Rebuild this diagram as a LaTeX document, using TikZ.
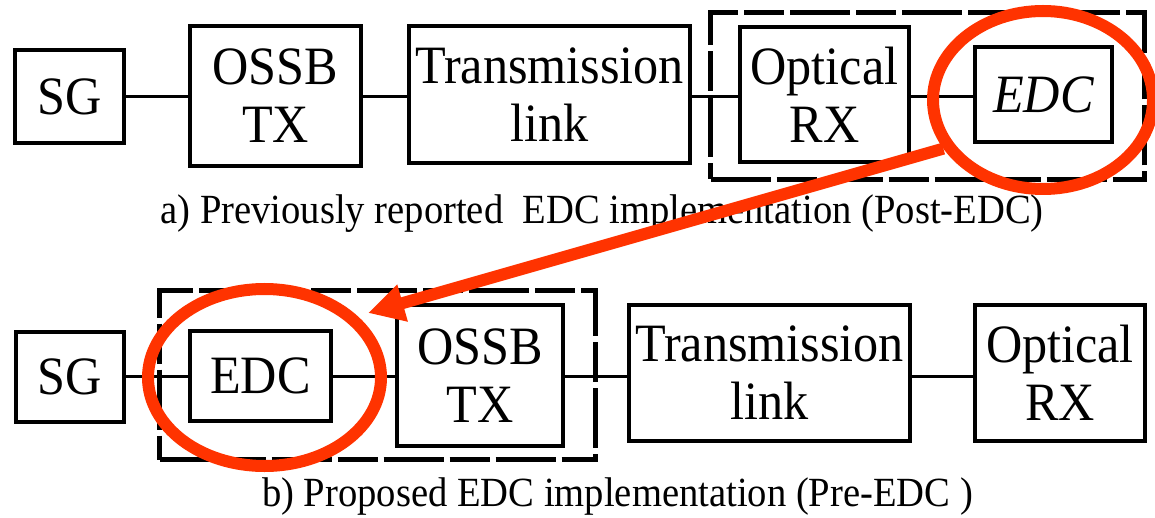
\documentclass[tikz,border=0pt]{standalone}
\usepackage{fontspec}
\setmainfont[FakeStretch=0.93]{Liberation Serif}
\usetikzlibrary{arrows.meta,shapes.geometric}
\definecolor{markred}{RGB}{255,51,0}
\begin{document}
\begin{tikzpicture}[x=1pt,y=-1pt,
  blk/.style={draw,line width=4pt,inner sep=0pt,align=center,
    font=\fontsize{54}{58}\selectfont},
  link/.style={line width=3.5pt},
  group/.style={draw,line width=5pt,inner sep=0pt,
    dash pattern=on 60pt off 6pt on 40pt off 6pt},
  caption/.style={font=\fontsize{41.5}{45}\selectfont,anchor=base,inner sep=0pt},
  ring/.style={draw=markred,ellipse,line width=12pt,inner sep=0pt},
  pointer/.style={color=markred,line width=12pt,
    -{Triangle[length=36pt,width=36pt]}}]
\useasboundingbox (0,0) rectangle (1155,518);

% (a) post-compensation chain
\node[blk,minimum width=109pt,minimum height=93pt]  (sgA)   at (69.5,96.5)  {SG};
\node[blk,minimum width=171pt,minimum height=140pt] (ossbA) at (275.5,96)   {OSSB\\TX};
\node[blk,minimum width=281pt,minimum height=137pt] (trA)   at (549.5,94.5) {Transmission\\link};
\node[blk,minimum width=169pt,minimum height=135pt] (orxA)  at (824.5,94.5) {Optical\\RX};
\node[blk,minimum width=137pt,minimum height=95pt]  (edcA)  at (1043.5,94.5){\itshape EDC};
\node[group,minimum width=434pt,minimum height=167pt] (grpA) at (927.5,96) {};

\draw[link] (sgA.east) -- (sgA.east -| ossbA.west);
\draw[link] (ossbA.east |- sgA.east) -- (sgA.east -| trA.west);
\draw[link] (trA.east |- sgA.east) -- (sgA.east -| orxA.west);
\draw[link] (orxA.east |- sgA.east) -- (sgA.east -| edcA.west);

\node[caption] (capA) at (602,224)
  {a) Previously reported\ \ EDC implementation (Post-EDC)};

% (b) pre-compensation chain
\node[blk,minimum width=108pt,minimum height=90pt]  (sgB)   at (70,376.5)   {SG};
\node[blk,minimum width=141pt,minimum height=90pt]  (edcB)  at (260.5,376)  {EDC};
\node[blk,minimum width=166pt,minimum height=141pt] (ossbB) at (480,375.5)  {OSSB\\TX};
\node[blk,minimum width=281pt,minimum height=136pt] (trB)   at (769.5,373)  {Transmission\\link};
\node[blk,minimum width=170pt,minimum height=136pt] (orxB)  at (1060,373)   {Optical\\RX};
\node[group,minimum width=436pt,minimum height=169pt] (grpB) at (377.5,375) {};

\draw[link] (sgB.east) -- (sgB.east -| edcB.west);
\draw[link] (edcB.east |- sgB.east) -- (sgB.east -| ossbB.west);
\draw[link] (ossbB.east |- sgB.east) -- (sgB.east -| trB.west);
\draw[link] (trB.east |- sgB.east) -- (sgB.east -| orxB.west);

\node[caption] (capB) at (617.5,506)
  {b) Proposed EDC implementation (Pre-EDC )};

% highlight: the EDC block moves from receiver to transmitter
\node[ring,minimum width=220pt,minimum height=178pt] (ellA) at (1043,100) {};
\node[ring,minimum width=233pt,minimum height=177pt] (ellB) at (264.5,377.5) {};
\coordinate (tipB) at (368,313);
\draw[pointer] (ellA.206) -- (tipB);
\end{tikzpicture}
\end{document}
